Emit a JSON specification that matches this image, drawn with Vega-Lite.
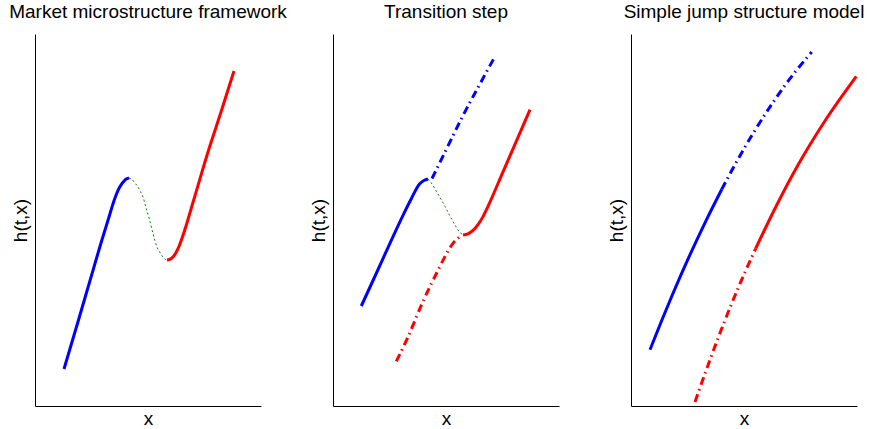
{
  "$schema": "https://vega.github.io/schema/vega-lite/v6.json",
  "padding": {"left": 9, "top": 3, "right": 0, "bottom": 0},
  "background": "white",
  "spacing": 72,
  "bounds": "flush",
  "datasets": {
    "curves": [
      {"p": 1, "s": "b", "i": 1, "x": 29, "y": 37},
      {"p": 1, "s": "b", "i": 2, "x": 43.5, "y": 86},
      {"p": 1, "s": "b", "i": 3, "x": 58, "y": 135.7},
      {"p": 1, "s": "b", "i": 4, "x": 66.3, "y": 164},
      {"p": 1, "s": "b", "i": 5, "x": 73, "y": 185.7},
      {"p": 1, "s": "b", "i": 6, "x": 79.7, "y": 207.3},
      {"p": 1, "s": "b", "i": 7, "x": 84.7, "y": 219},
      {"p": 1, "s": "b", "i": 8, "x": 89.7, "y": 225.7},
      {"p": 1, "s": "b", "i": 9, "x": 92, "y": 227.3},
      {"p": 1, "s": "b", "i": 10, "x": 94, "y": 228},
      {"p": 1, "s": "g", "i": 1, "x": 94, "y": 228},
      {"p": 1, "s": "g", "i": 2, "x": 97, "y": 226.5},
      {"p": 1, "s": "g", "i": 3, "x": 99.7, "y": 223.3},
      {"p": 1, "s": "g", "i": 4, "x": 103, "y": 219},
      {"p": 1, "s": "g", "i": 5, "x": 105.7, "y": 214},
      {"p": 1, "s": "g", "i": 6, "x": 108, "y": 209},
      {"p": 1, "s": "g", "i": 7, "x": 111.3, "y": 197.3},
      {"p": 1, "s": "g", "i": 8, "x": 114.7, "y": 185.7},
      {"p": 1, "s": "g", "i": 9, "x": 118, "y": 172.3},
      {"p": 1, "s": "g", "i": 10, "x": 122, "y": 159},
      {"p": 1, "s": "g", "i": 11, "x": 124.7, "y": 154},
      {"p": 1, "s": "g", "i": 12, "x": 128, "y": 149},
      {"p": 1, "s": "g", "i": 13, "x": 130.3, "y": 146.7},
      {"p": 1, "s": "g", "i": 14, "x": 132, "y": 146},
      {"p": 1, "s": "r", "i": 1, "x": 132, "y": 146},
      {"p": 1, "s": "r", "i": 2, "x": 134.5, "y": 146.5},
      {"p": 1, "s": "r", "i": 3, "x": 138, "y": 149},
      {"p": 1, "s": "r", "i": 4, "x": 143, "y": 157.3},
      {"p": 1, "s": "r", "i": 5, "x": 148, "y": 170.7},
      {"p": 1, "s": "r", "i": 6, "x": 159, "y": 207},
      {"p": 1, "s": "r", "i": 7, "x": 173, "y": 254},
      {"p": 1, "s": "r", "i": 8, "x": 186, "y": 294},
      {"p": 1, "s": "r", "i": 9, "x": 199, "y": 335},

      {"p": 2, "s": "b", "i": 1, "x": 28.3, "y": 100},
      {"p": 2, "s": "b", "i": 2, "x": 43, "y": 132},
      {"p": 2, "s": "b", "i": 3, "x": 58.3, "y": 165.7},
      {"p": 2, "s": "b", "i": 4, "x": 70, "y": 190.7},
      {"p": 2, "s": "b", "i": 5, "x": 78.3, "y": 207.3},
      {"p": 2, "s": "b", "i": 6, "x": 86.7, "y": 222.3},
      {"p": 2, "s": "b", "i": 7, "x": 91, "y": 225.5},
      {"p": 2, "s": "b", "i": 8, "x": 95, "y": 227},
      {"p": 2, "s": "bd", "i": 1, "x": 99, "y": 227.5},
      {"p": 2, "s": "bd", "i": 2, "x": 114, "y": 258},
      {"p": 2, "s": "bd", "i": 3, "x": 129, "y": 288.5},
      {"p": 2, "s": "bd", "i": 4, "x": 145, "y": 318.5},
      {"p": 2, "s": "bd", "i": 5, "x": 161.7, "y": 349},
      {"p": 2, "s": "g", "i": 1, "x": 95, "y": 227},
      {"p": 2, "s": "g", "i": 2, "x": 98, "y": 223.5},
      {"p": 2, "s": "g", "i": 3, "x": 102, "y": 217},
      {"p": 2, "s": "g", "i": 4, "x": 107, "y": 208.5},
      {"p": 2, "s": "g", "i": 5, "x": 112, "y": 199.5},
      {"p": 2, "s": "g", "i": 6, "x": 117, "y": 190},
      {"p": 2, "s": "g", "i": 7, "x": 122, "y": 181},
      {"p": 2, "s": "g", "i": 8, "x": 126, "y": 174.5},
      {"p": 2, "s": "g", "i": 9, "x": 130, "y": 171.3},
      {"p": 2, "s": "r", "i": 1, "x": 130, "y": 171},
      {"p": 2, "s": "r", "i": 2, "x": 135, "y": 172.2},
      {"p": 2, "s": "r", "i": 3, "x": 140, "y": 175.6},
      {"p": 2, "s": "r", "i": 4, "x": 145, "y": 181.4},
      {"p": 2, "s": "r", "i": 5, "x": 150, "y": 189.4},
      {"p": 2, "s": "r", "i": 6, "x": 155, "y": 199.7},
      {"p": 2, "s": "r", "i": 7, "x": 170, "y": 234.2},
      {"p": 2, "s": "r", "i": 8, "x": 185, "y": 268.7},
      {"p": 2, "s": "r", "i": 9, "x": 197, "y": 296.4},
      {"p": 2, "s": "rd", "i": 1, "x": 63.3, "y": 44.7},
      {"p": 2, "s": "rd", "i": 2, "x": 75, "y": 69},
      {"p": 2, "s": "rd", "i": 3, "x": 88.3, "y": 100.7},
      {"p": 2, "s": "rd", "i": 4, "x": 103.3, "y": 132.3},
      {"p": 2, "s": "rd", "i": 5, "x": 121.7, "y": 164.7},
      {"p": 2, "s": "rd", "i": 6, "x": 129, "y": 171},

      {"p": 3, "s": "b", "i": 1, "x": 19, "y": 56.3},
      {"p": 3, "s": "b", "i": 2, "x": 30, "y": 83.8},
      {"p": 3, "s": "b", "i": 3, "x": 41.3, "y": 111},
      {"p": 3, "s": "b", "i": 4, "x": 58, "y": 149.1},
      {"p": 3, "s": "b", "i": 5, "x": 74.7, "y": 184.7},
      {"p": 3, "s": "b", "i": 6, "x": 90.7, "y": 216.6},
      {"p": 3, "s": "bd", "i": 1, "x": 90.7, "y": 216.6},
      {"p": 3, "s": "bd", "i": 2, "x": 101.3, "y": 236.5},
      {"p": 3, "s": "bd", "i": 3, "x": 121.3, "y": 271.3},
      {"p": 3, "s": "bd", "i": 4, "x": 139.7, "y": 300.2},
      {"p": 3, "s": "bd", "i": 5, "x": 158, "y": 326.1},
      {"p": 3, "s": "bd", "i": 6, "x": 180.7, "y": 354},
      {"p": 3, "s": "rd", "i": 1, "x": 64, "y": 4},
      {"p": 3, "s": "rd", "i": 2, "x": 78, "y": 43.5},
      {"p": 3, "s": "rd", "i": 3, "x": 93, "y": 83.3},
      {"p": 3, "s": "rd", "i": 4, "x": 108, "y": 120},
      {"p": 3, "s": "rd", "i": 5, "x": 124.7, "y": 157.5},
      {"p": 3, "s": "r", "i": 1, "x": 124.7, "y": 157.5},
      {"p": 3, "s": "r", "i": 2, "x": 144, "y": 197.5},
      {"p": 3, "s": "r", "i": 3, "x": 168, "y": 242.7},
      {"p": 3, "s": "r", "i": 4, "x": 194.7, "y": 286.3},
      {"p": 3, "s": "r", "i": 5, "x": 225.3, "y": 329.7}
    ]
  },
  "data": {"name": "curves"},
  "hconcat": [
    {
      "width": 226, "height": 372,
      "title": {"text": "Market microstructure framework"},
      "transform": [{"filter": "datum.p == 1"}],
      "encoding": {
        "x": {"field": "x", "type": "quantitative", "scale": {"domain": [0, 226], "nice": false, "zero": false}, "axis": {"title": "x"}},
        "y": {"field": "y", "type": "quantitative", "scale": {"domain": [0, 372], "nice": false, "zero": false}, "axis": {"title": "h(t,x)"}},
        "color": {"field": "s", "type": "nominal", "scale": {"domain": ["b", "bd", "g", "r", "rd"], "range": ["#0000ff", "#0000ff", "#008000", "#ff0000", "#ff0000"]}, "legend": null},
        "order": {"field": "i", "type": "quantitative"}
      },
      "layer": [
        {"transform": [{"filter": "datum.s == 'b' || datum.s == 'r'"}], "mark": {"type": "line", "interpolate": "monotone", "strokeWidth": 3, "strokeCap": "butt"}},
        {"transform": [{"filter": "datum.s == 'bd' || datum.s == 'rd'"}], "mark": {"type": "line", "interpolate": "monotone", "strokeWidth": 3, "strokeCap": "butt", "strokeDash": [8, 4, 1.5, 4.5]}},
        {"transform": [{"filter": "datum.s == 'g'"}], "mark": {"type": "line", "interpolate": "monotone", "strokeWidth": 1, "strokeCap": "butt", "strokeDash": [2, 2.5]}}
      ]
    },
    {
      "width": 226, "height": 372,
      "title": {"text": "Transition step"},
      "transform": [{"filter": "datum.p == 2"}],
      "encoding": {
        "x": {"field": "x", "type": "quantitative", "scale": {"domain": [0, 226], "nice": false, "zero": false}, "axis": {"title": "x"}},
        "y": {"field": "y", "type": "quantitative", "scale": {"domain": [0, 372], "nice": false, "zero": false}, "axis": {"title": "h(t,x)"}},
        "color": {"field": "s", "type": "nominal", "scale": {"domain": ["b", "bd", "g", "r", "rd"], "range": ["#0000ff", "#0000ff", "#008000", "#ff0000", "#ff0000"]}, "legend": null},
        "order": {"field": "i", "type": "quantitative"}
      },
      "layer": [
        {"transform": [{"filter": "datum.s == 'b' || datum.s == 'r'"}], "mark": {"type": "line", "interpolate": "monotone", "strokeWidth": 3, "strokeCap": "butt"}},
        {"transform": [{"filter": "datum.s == 'bd' || datum.s == 'rd'"}], "mark": {"type": "line", "interpolate": "monotone", "strokeWidth": 3, "strokeCap": "butt", "strokeDash": [8, 4, 1.5, 4.5]}},
        {"transform": [{"filter": "datum.s == 'g'"}], "mark": {"type": "line", "interpolate": "monotone", "strokeWidth": 1, "strokeCap": "butt", "strokeDash": [2, 2.5]}}
      ]
    },
    {
      "width": 226, "height": 372,
      "title": {"text": "Simple jump structure model"},
      "transform": [{"filter": "datum.p == 3"}],
      "encoding": {
        "x": {"field": "x", "type": "quantitative", "scale": {"domain": [0, 226], "nice": false, "zero": false}, "axis": {"title": "x"}},
        "y": {"field": "y", "type": "quantitative", "scale": {"domain": [0, 372], "nice": false, "zero": false}, "axis": {"title": "h(t,x)"}},
        "color": {"field": "s", "type": "nominal", "scale": {"domain": ["b", "bd", "g", "r", "rd"], "range": ["#0000ff", "#0000ff", "#008000", "#ff0000", "#ff0000"]}, "legend": null},
        "order": {"field": "i", "type": "quantitative"}
      },
      "layer": [
        {"transform": [{"filter": "datum.s == 'b' || datum.s == 'r'"}], "mark": {"type": "line", "interpolate": "monotone", "strokeWidth": 3, "strokeCap": "butt"}},
        {"transform": [{"filter": "datum.s == 'bd' || datum.s == 'rd'"}], "mark": {"type": "line", "interpolate": "monotone", "strokeWidth": 3, "strokeCap": "butt", "strokeDash": [8, 4, 1.5, 4.5]}}
      ]
    }
  ],
  "config": {
    "view": {"stroke": null},
    "axis": {
      "grid": false, "ticks": false, "labels": false,
      "domainColor": "#000000", "domainWidth": 1,
      "titleFont": "Liberation Sans", "titleFontSize": 19, "titleFontWeight": "normal", "titleColor": "#000000",
      "titlePadding": 5
    },
    "axisX": {"titlePadding": 3},
    "title": {"font": "Liberation Sans", "fontSize": 19, "fontWeight": "normal", "color": "#000000", "anchor": "middle", "baseline": "alphabetic", "offset": 12}
  }
}
